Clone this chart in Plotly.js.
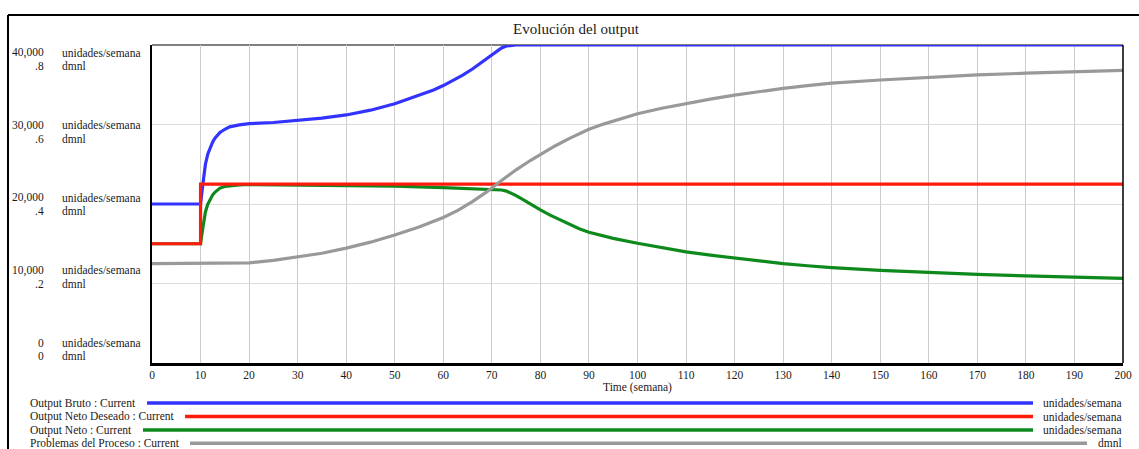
<!DOCTYPE html>
<html>
<head>
<meta charset="utf-8">
<script src="https://cdn.plot.ly/plotly-3.0.1.min.js"></script>
<style>
  html, body { margin: 0; padding: 0; background: #ffffff; }
  #chart { width: 1139px; height: 449px; }
</style>
</head>
<body>
<div id="chart"></div>
<script>
// ---------------- DATA ----------------
const chartTitle = "Evolución del output";
const xTitle = "Time (semana)";

const timeBruto = [0, 10, 10.5, 11, 11.5, 12, 12.5, 13, 14, 15, 16, 18, 20, 25, 30, 35, 40, 45, 50, 55, 58, 60, 62, 64, 66, 68, 70, 71, 72, 73, 74, 75, 200];
const outputBruto = [20000, 20000, 22600, 25000, 26300, 27200, 27800, 28300, 29000, 29400, 29700, 29950, 30100, 30250, 30500, 30800, 31200, 31800, 32600, 33650, 34350, 34900, 35500, 36200, 36980, 37870, 38800, 39250, 39620, 39870, 39980, 40000, 40000];

const timeDeseado = [0, 10, 10, 200];
const outputNetoDeseado = [15000, 15000, 22500, 22500];

const timeNeto = [0, 10, 10.5, 11, 11.5, 12, 12.5, 13, 14, 15, 16, 18, 20, 30, 40, 50, 60, 65, 70, 71, 72, 73, 74, 75, 76, 78, 80, 82, 85, 88, 90, 95, 100, 105, 110, 115, 120, 125, 130, 135, 140, 150, 160, 170, 180, 190, 200];
const outputNeto = [15000, 15000, 17100, 19000, 20000, 20700, 21150, 21500, 22000, 22200, 22300, 22400, 22450, 22400, 22350, 22250, 22050, 21950, 21850, 21820, 21760, 21620, 21370, 21050, 20700, 19950, 19250, 18600, 17700, 16900, 16450, 15680, 15060, 14480, 13980, 13560, 13200, 12820, 12500, 12230, 12000, 11650, 11380, 11150, 10950, 10800, 10650];

const timeProblemas = [0, 10, 15, 20, 25, 30, 35, 40, 45, 50, 55, 60, 63, 66, 69, 72, 75, 78, 80, 83, 86, 88, 90, 93, 96, 100, 105, 110, 115, 120, 125, 130, 135, 140, 150, 160, 170, 180, 190, 200];
const problemasProceso = [0.25, 0.25, 0.25, 0.252, 0.258, 0.266, 0.276, 0.289, 0.304, 0.322, 0.342, 0.366, 0.384, 0.406, 0.431, 0.459, 0.486, 0.510, 0.525, 0.546, 0.565, 0.577, 0.588, 0.601, 0.613, 0.627, 0.641, 0.653, 0.664, 0.674, 0.683, 0.691, 0.698, 0.704, 0.712, 0.719, 0.725, 0.729, 0.733, 0.736];

const xTickVals = [0, 10, 20, 30, 40, 50, 60, 70, 80, 90, 100, 110, 120, 130, 140, 150, 160, 170, 180, 190, 200];
const yGridVals = [0, 10000, 20000, 30000, 40000];
const unitTickLabels = ["40,000", "30,000", "20,000", "10,000", "0"];
const dmnlTickLabels = [".8", ".6", ".4", ".2", "0"];
const unitName = "unidades/semana";
const dmnlName = "dmnl";

const seriesNames = ["Output Bruto : Current", "Output Neto Deseado : Current", "Output Neto : Current", "Problemas del Proceso : Current"];
const seriesUnits = ["unidades/semana", "unidades/semana", "unidades/semana", "dmnl"];
const seriesColors = ["#3333ff", "#ff1a0a", "#0e8a1c", "#999999"];

// ---------------- LAYOUT HELPERS ----------------
const W = 1139, H = 449;
const PL = 152, PR = 1123, PT = 45, PB = 363;
const px2x = px => (px - PL) / (PR - PL);
const px2y = py => (PB - py) / (PB - PT);
const FONT = "Liberation Serif, Times New Roman, serif";
const TXT = "#1a1a1a";
const FS = 11.5;

const traces = [
  { x: timeBruto, y: outputBruto, name: seriesNames[0], mode: "lines", line: { color: seriesColors[0], width: 3.2 }, yaxis: "y" },
  { x: timeNeto, y: outputNeto, name: seriesNames[2], mode: "lines", line: { color: seriesColors[2], width: 3.2 }, yaxis: "y" },
  { x: timeDeseado, y: outputNetoDeseado, name: seriesNames[1], mode: "lines", line: { color: seriesColors[1], width: 3.2 }, yaxis: "y" },
  { x: timeProblemas, y: problemasProceso, name: seriesNames[3], mode: "lines", line: { color: seriesColors[3], width: 3.2 }, yaxis: "y2" }
];

const annotations = [];
const shapes = [];

// left axis labels (Vensim style: two rows per level, evenly spaced)
for (let i = 0; i < unitTickLabels.length; i++) {
  const yTop = 52.7 + i * 72.5;
  const yBot = yTop + 13.5;
  annotations.push({ xref: "paper", yref: "paper", x: px2x(46), y: px2y(yTop), xanchor: "right", yanchor: "middle", text: unitTickLabels[i], showarrow: false, font: { family: FONT, size: FS, color: TXT } });
  annotations.push({ xref: "paper", yref: "paper", x: px2x(60), y: px2y(yTop), xanchor: "left", yanchor: "middle", text: unitName, showarrow: false, font: { family: FONT, size: FS, color: TXT } });
  annotations.push({ xref: "paper", yref: "paper", x: px2x(46), y: px2y(yBot), xanchor: "right", yanchor: "middle", text: dmnlTickLabels[i], showarrow: false, font: { family: FONT, size: FS, color: TXT } });
  annotations.push({ xref: "paper", yref: "paper", x: px2x(60), y: px2y(yBot), xanchor: "left", yanchor: "middle", text: dmnlName, showarrow: false, font: { family: FONT, size: FS, color: TXT } });
}

// legend rows
const legendRowsY = [403, 416.5, 430, 443.3];
const legendLineStart = [147, 185, 143, 190];
const legendLineEnd = [1033, 1033, 1033, 1087];
for (let i = 0; i < seriesNames.length; i++) {
  annotations.push({ xref: "paper", yref: "paper", x: px2x(28), y: px2y(legendRowsY[i]), xanchor: "left", yanchor: "middle", text: seriesNames[i], showarrow: false, font: { family: FONT, size: FS, color: TXT } });
  annotations.push({ xref: "paper", yref: "paper", x: px2x(1124), y: px2y(legendRowsY[i]), xanchor: "right", yanchor: "middle", text: seriesUnits[i], showarrow: false, font: { family: FONT, size: FS, color: TXT } });
  shapes.push({ type: "line", xref: "paper", yref: "paper", x0: px2x(legendLineStart[i]), x1: px2x(legendLineEnd[i]), y0: px2y(legendRowsY[i]), y1: px2y(legendRowsY[i]), line: { color: seriesColors[i], width: 3.5 } });
}

// outer frame (top + left)
shapes.push({ type: "line", xref: "paper", yref: "paper", x0: px2x(8), x1: px2x(1139), y0: px2y(15), y1: px2y(15), line: { color: "#000", width: 2 } });
shapes.push({ type: "line", xref: "paper", yref: "paper", x0: px2x(8), x1: px2x(8), y0: px2y(15), y1: px2y(449), line: { color: "#000", width: 2 } });
// plot border top (thin) and right
shapes.push({ type: "line", xref: "paper", yref: "paper", x0: 0, x1: 1, y0: 1, y1: 1, layer: "below", line: { color: "#000", width: 1 } });
shapes.push({ type: "line", xref: "paper", yref: "paper", x0: 1, x1: 1, y0: 0, y1: 1, line: { color: "#000", width: 1.5 } });

const layout = {
  width: W, height: H,
  margin: { l: PL, r: W - PR, t: PT, b: H - PB, pad: 0 },
  paper_bgcolor: "#ffffff", plot_bgcolor: "#ffffff",
  showlegend: false,
  title: { text: chartTitle, x: 576 / W, xanchor: "center", y: 1 - 29 / H, yanchor: "middle", xref: "container", yref: "container", font: { family: FONT, size: 15, color: TXT } },
  xaxis: {
    range: [0, 200], tickvals: xTickVals, ticktext: xTickVals.map(String),
    showgrid: true, gridcolor: "#cccccc", gridwidth: 1, zeroline: false,
    showline: true, linecolor: "#000", linewidth: 2.5, ticks: "", ticklen: 0,
    tickfont: { family: FONT, size: FS, color: TXT }, automargin: false,
    title: { text: xTitle, font: { family: FONT, size: FS, color: TXT }, standoff: 1 }
  },
  yaxis: {
    range: [0, 40000], tickvals: yGridVals, showticklabels: false,
    showgrid: true, gridcolor: "#dddddd", gridwidth: 1, zeroline: false,
    showline: true, linecolor: "#000", linewidth: 2.5, ticks: "", automargin: false
  },
  yaxis2: {
    range: [0, 0.8], overlaying: "y", side: "right", showgrid: false, showticklabels: false,
    zeroline: false, showline: false, automargin: false
  },
  annotations: annotations,
  shapes: shapes
};

Plotly.newPlot("chart", traces, layout, { displayModeBar: false, staticPlot: true });
</script>
</body>
</html>
